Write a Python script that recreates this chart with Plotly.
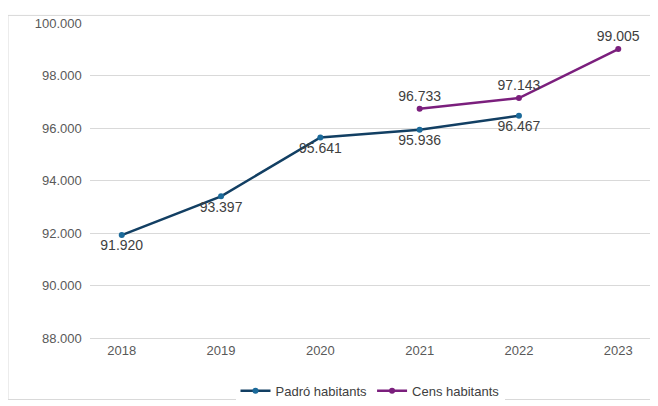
import plotly.graph_objects as go

years = ["2018", "2019", "2020", "2021", "2022", "2023"]
padro_years = ["2018", "2019", "2020", "2021", "2022"]
padro = [91920, 93397, 95641, 95936, 96467]
cens_years = ["2021", "2022", "2023"]
cens = [96733, 97143, 99005]


def fmt(v):
    return f"{v:,}".replace(",", ".")


fig = go.Figure()
fig.add_trace(go.Scatter(
    x=padro_years, y=padro, name="Padró habitants",
    mode="lines+markers+text",
    line=dict(color="#123F63", width=2.5),
    marker=dict(color="#1B6A9A", size=6),
    text=[fmt(v) for v in padro], textposition="bottom center",
    textfont=dict(color="#404040", size=14),
))
fig.add_trace(go.Scatter(
    x=cens_years, y=cens, name="Cens habitants",
    mode="lines+markers+text",
    line=dict(color="#7B1F7D", width=2.5),
    marker=dict(color="#7B1F7D", size=6),
    text=[fmt(v) for v in cens], textposition="top center",
    textfont=dict(color="#404040", size=14),
))

fig.update_layout(
    width=658, height=406,
    paper_bgcolor="white", plot_bgcolor="white",
    font=dict(family="Liberation Sans, Arial", color="#595959", size=13),
    margin=dict(l=82, r=16, t=8, b=65),
    showlegend=True,
    legend=dict(orientation="h", x=0.5, xanchor="center", y=-0.12, yanchor="top",
                font=dict(size=13, color="#404040")),
    xaxis=dict(type="category", categoryorder="array", categoryarray=years,
               showgrid=False, showline=True, linecolor="#D9D9D9",
               ticks="", tickfont=dict(size=13, color="#595959")),
    yaxis=dict(range=[88000, 100000], dtick=2000, showgrid=True,
               gridcolor="#D9D9D9", zeroline=False, tickformat=",.0f",
               separatethousands=True, ticks="", ticksuffix="  ",
               tickfont=dict(size=13, color="#595959")),
    separators=",.",
    shapes=[dict(type="rect", xref="paper", yref="paper", x0=-82/560, x1=1+16/560,
                 y0=-65/333, y1=1+8/333, line=dict(color="#D9D9D9", width=1))],
)
fig.write_html("out.html")
